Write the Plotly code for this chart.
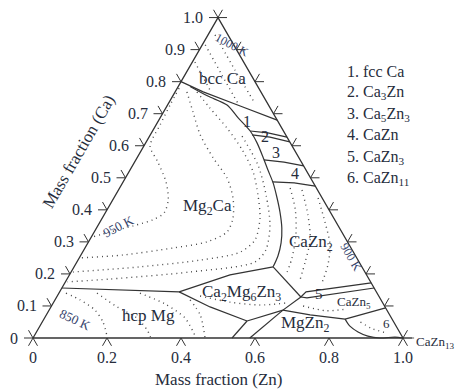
import numpy as np
import plotly.graph_objects as go

# ---------------- data: compositions as (Zn, Ca) mass fractions ----------------
bcc_line = [(0.0, 0.80), (0.076, 0.768), (0.198, 0.724), (0.32, 0.68)]
mg2ca_boundary = [(0.032, 0.785), (0.095, 0.755), (0.161, 0.727), (0.211, 0.687), (0.264, 0.646),
                  (0.301, 0.609), (0.339, 0.565), (0.373, 0.524), (0.407, 0.484), (0.439, 0.440),
                  (0.471, 0.393), (0.501, 0.343), (0.522, 0.297), (0.534, 0.256), (0.538, 0.222)]
line_12 = [(0.264, 0.646), (0.315, 0.640), (0.373, 0.627)]
line_23 = [(0.275, 0.634), (0.327, 0.627), (0.388, 0.612)]
line_34 = [(0.346, 0.556), (0.404, 0.549), (0.463, 0.537)]
line_4 = [(0.404, 0.487), (0.464, 0.484), (0.526, 0.474)]
hcp_top = [(0.0, 0.156), (0.16, 0.150), (0.323, 0.144)]
line_ab = [(0.323, 0.144), (0.434, 0.197), (0.538, 0.222)]
line_ad = [(0.323, 0.144), (0.430, 0.097), (0.552, 0.053)]
line_d_bottom = [(0.552, 0.053), (0.538, 0.0)]
line_bc = [(0.538, 0.222), (0.603, 0.172), (0.660, 0.128)]
line_de = [(0.552, 0.053), (0.593, 0.069), (0.632, 0.087)]
line_e_bottom = [(0.632, 0.087), (0.586, 0.0)]
line_ce = [(0.660, 0.128), (0.632, 0.087)]
cazn3_upper = [(0.660, 0.128), (0.666, 0.144), (0.828, 0.172)]
cazn3_lower = [(0.660, 0.128), (0.678, 0.125), (0.844, 0.156)]
mgzn2_top = [(0.632, 0.087), (0.713, 0.072), (0.814, 0.059)]
cazn5_bottom = [(0.814, 0.059), (0.906, 0.094)]
cazn11_curve = [(0.814, 0.059), (0.838, 0.037), (0.869, 0.019), (0.902, 0.006),
                (0.938, 0.0), (0.977, 0.003), (1.0, 0.0)]

solid_straight = [bcc_line, line_12, line_23, line_34, line_4, hcp_top, line_ab, line_ad,
                  line_d_bottom, line_bc, line_de, line_e_bottom, line_ce, cazn3_upper,
                  cazn3_lower, mgzn2_top, cazn5_bottom]
solid_curved = [mg2ca_boundary, cazn11_curve]

# isotherms (dotted)
iso_c1 = [(0.005, 0.780), (0.007, 0.727), (0.011, 0.665), (0.017, 0.599), (0.063, 0.549), (0.116, 0.487),
          (0.150, 0.431), (0.159, 0.390), (0.138, 0.368), (0.096, 0.350), (0.043, 0.331), (0.002, 0.315)]
iso_c2 = [(0.032, 0.768), (0.080, 0.705), (0.135, 0.634), (0.206, 0.562), (0.275, 0.499), (0.322, 0.437),
          (0.353, 0.375), (0.359, 0.331), (0.320, 0.300), (0.238, 0.281), (0.114, 0.259), (0.002, 0.250)]
iso_c3 = [(0.059, 0.768), (0.119, 0.718), (0.197, 0.655), (0.272, 0.587), (0.336, 0.518), (0.385, 0.446),
          (0.426, 0.375), (0.447, 0.306), (0.426, 0.268), (0.330, 0.243), (0.178, 0.222), (0.005, 0.206)]
iso_c4 = [(0.25, 0.63), (0.338, 0.540), (0.407, 0.446), (0.464, 0.353), (0.492, 0.275), (0.481, 0.237),
          (0.321, 0.206), (0.116, 0.184), (0.005, 0.175)]
iso_h1 = [(0.019, 0.140), (0.068, 0.119), (0.124, 0.087), (0.164, 0.050), (0.197, 0.006)]
iso_h2 = [(0.103, 0.140), (0.179, 0.097), (0.250, 0.062), (0.296, 0.025), (0.316, 0.003)]
iso_h3 = [(0.219, 0.140), (0.304, 0.106), (0.380, 0.062), (0.438, 0.003)]
iso_h4 = [(0.365, 0.119), (0.416, 0.072), (0.463, 0.003)]
iso_g1 = [(0.386, 0.131), (0.476, 0.112), (0.562, 0.103), (0.627, 0.109)]
iso_z1 = [(0.461, 0.468), (0.509, 0.400), (0.550, 0.321), (0.575, 0.250), (0.584, 0.206)]
iso_z2 = [(0.496, 0.462), (0.551, 0.384), (0.596, 0.306), (0.617, 0.237), (0.631, 0.181)]
iso_z3 = [(0.552, 0.437), (0.608, 0.362), (0.658, 0.290), (0.683, 0.228), (0.695, 0.172)]
iso_b1 = [(0.008, 0.915), (0.100, 0.821), (0.187, 0.733)]
iso_b2 = [(0.007, 0.861), (0.10, 0.765)]
iso_b3 = [(0.019, 0.946), (0.128, 0.836), (0.233, 0.733)]
iso_cz5 = [(0.68, 0.10), (0.75, 0.085), (0.80, 0.09)]
iso_cz11 = [(0.86, 0.05), (0.90, 0.03), (0.95, 0.015)]
isotherms = [iso_c1, iso_c2, iso_c3, iso_c4, iso_h1, iso_h2, iso_h3, iso_h4, iso_g1,
             iso_z1, iso_z2, iso_z3, iso_b1, iso_b2, iso_b3, iso_cz5, iso_cz11]

bottom_ticks = [0.0, 0.2, 0.4, 0.6, 0.8, 1.0]
bottom_tick_labels = ["0", "0.2", "0.4", "0.6", "0.8", "1.0"]
left_ticks = [0.0, 0.1, 0.2, 0.3, 0.4, 0.5, 0.6, 0.7, 0.8, 0.9, 1.0]
left_tick_labels = ["0", "0.1", "0.2", "0.3", "0.4", "0.5", "0.6", "0.7", "0.8", "0.9", "1.0"]
right_ticks = [0.0, 0.1, 0.2, 0.3, 0.4, 0.5, 0.6, 0.7, 0.8, 0.9, 1.0]

legend_items = ["1. fcc Ca", "2. Ca<sub>3</sub>Zn", "3. Ca<sub>5</sub>Zn<sub>3</sub>",
                "4. CaZn", "5. CaZn<sub>3</sub>", "6. CaZn<sub>11</sub>"]

# ---------------- helpers ----------------
S3 = np.sqrt(3) / 2
W, H = 457, 391
OX, OY, SC = 33, 338, 370.0   # pixel origin and scale (layout)


def tern(pts):
    zn = np.array([p[0] for p in pts], float)
    ca = np.array([p[1] for p in pts], float)
    return zn + ca / 2, ca * S3


def P(px, py):
    return (px - OX) / SC, (OY - py) / SC


TXT = "#262d3c"
LINE = "#333333"
DOTC = "#4a4a4a"
FONT = "Liberation Serif"

fig = go.Figure()

# triangle frame
fx, fy = tern([(0, 0), (1, 0), (0, 1), (0, 0)])
fig.add_trace(go.Scatter(x=fx, y=fy, mode="lines", line=dict(color=LINE, width=1.3),
                         hoverinfo="skip", showlegend=False))

# isotherms
for c in isotherms:
    x, y = tern(c)
    fig.add_trace(go.Scatter(x=x, y=y, mode="lines", line=dict(color=DOTC, width=1.4, dash="1px,4px",
                                                               shape="spline", smoothing=0.8),
                             hoverinfo="skip", showlegend=False))

# boundaries
for c in solid_straight:
    x, y = tern(c)
    fig.add_trace(go.Scatter(x=x, y=y, mode="lines", line=dict(color=LINE, width=1.2),
                             hoverinfo="skip", showlegend=False))
for c in solid_curved:
    x, y = tern(c)
    fig.add_trace(go.Scatter(x=x, y=y, mode="lines", line=dict(color=LINE, width=1.2, shape="spline",
                                                               smoothing=0.8),
                             hoverinfo="skip", showlegend=False))

# CaZn13 leader
lx, ly = tern([(1.0, 0.0), (1.03, 0.0)])
fig.add_trace(go.Scatter(x=lx, y=ly, mode="lines", line=dict(color="#888888", width=1.4),
                         hoverinfo="skip", showlegend=False))

# ticks
L = 9 / SC
tx, ty = [], []


def add_tick(x0, y0, dirs):
    for dx, dy in dirs:
        tx.extend([x0, x0 + L * dx, None])
        ty.extend([y0, y0 + L * dy, None])


for t in bottom_ticks:
    x0, y0 = tern([(t, 0)])
    add_tick(x0[0], y0[0], [(-0.5, -S3), (0.5, -S3)])
for t in left_ticks:
    x0, y0 = tern([(0, t)])
    add_tick(x0[0], y0[0], [(-1, 0), (-0.5, S3)])
for t in right_ticks:
    x0, y0 = tern([(1 - t, t)])
    add_tick(x0[0], y0[0], [(1, 0), (0.5, S3)])
fig.add_trace(go.Scatter(x=tx, y=ty, mode="lines", line=dict(color=LINE, width=1.0),
                         hoverinfo="skip", showlegend=False))

ann = []


def text(x, y, s, size=17, angle=0, xanchor="center", color=TXT):
    ann.append(dict(x=x, y=y, text=s, showarrow=False, textangle=angle, xanchor=xanchor,
                    yanchor="middle", font=dict(family=FONT, size=size, color=color)))


# tick labels
for t, s in zip(bottom_ticks, bottom_tick_labels):
    x0, y0 = tern([(t, 0)])
    text(x0[0], y0[0] - 19 / SC, s, size=16)
for t, s in zip(left_ticks, left_tick_labels):
    x0, y0 = tern([(0, t)])
    text(x0[0] - 13 / SC, y0[0], s, size=16, xanchor="right")

# axis titles
text(*P(218, 379), "Mass fraction (Zn)", size=17)
text(*P(78, 152), "Mass fraction (Ca)", size=17, angle=-60)

# region labels
text(*P(222, 78), "bcc Ca")
text(*P(247, 121), "1", size=16)
text(*P(265, 136), "2", size=16)
text(*P(276, 152), "3", size=16)
text(*P(295, 173), "4", size=16)
text(*P(207, 207), "Mg<sub>2</sub>Ca")
text(*P(311, 243), "CaZn<sub>2</sub>")
text(*P(148, 315), "hcp Mg")
text(*P(241, 293), "Ca<sub>2</sub>Mg<sub>6</sub>Zn<sub>3</sub>")
text(*P(319, 294), "5", size=15)
text(*P(354, 302), "CaZn<sub>5</sub>", size=13)
text(*P(305, 324), "MgZn<sub>2</sub>")
text(*P(386, 323), "6", size=13)
text(*P(414, 342), "CaZn<sub>13</sub>", size=13, xanchor="left")

ISO = "#34426a"
text(*P(232, 45), "1000 K", size=12, angle=28, color=ISO)
text(*P(118, 226), "950 K", size=13, angle=-27, color=ISO)
text(*P(75, 319), "850 K", size=13, angle=25, color=ISO)
text(*P(351, 257), "900 K", size=12, angle=60, color=ISO)

# legend list
for i, s in enumerate(legend_items):
    ypix = [71, 92, 114, 134, 157, 178][i]
    text(*P(345, ypix), s, size=16, xanchor="left")

fig.update_layout(
    width=W, height=H, autosize=False,
    margin=dict(l=0, r=0, t=0, b=0),
    paper_bgcolor="white", plot_bgcolor="white",
    xaxis=dict(range=[-OX / SC, (W - OX) / SC], visible=False, fixedrange=True),
    yaxis=dict(range=[-(H - OY) / SC, OY / SC], visible=False, fixedrange=True),
    annotations=ann,
    showlegend=False,
)

fig.write_html("out.html")
